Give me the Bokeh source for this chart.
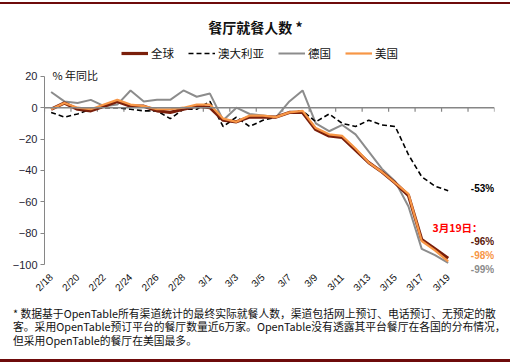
import math
from bokeh.plotting import figure
from bokeh.models import Range1d, FixedTicker, Span, Label, Legend, LegendItem, Div
from bokeh.layouts import column
from bokeh.embed import file_html
from bokeh.resources import INLINE

# ---------------- data ----------------
dates = ["2/18", "2/19", "2/20", "2/21", "2/22", "2/23", "2/24", "2/25", "2/26", "2/27",
         "2/28", "2/29", "3/1", "3/2", "3/3", "3/4", "3/5", "3/6", "3/7", "3/8", "3/9",
         "3/10", "3/11", "3/12", "3/13", "3/14", "3/15", "3/16", "3/17", "3/18", "3/19"]
global_vals = [-1, 3, -1, -2, 1, 4, 1, 1, -2, -3, -1, 1, 0, -8, -9, -6, -6, -6, -3, -3,
               -14, -18, -19, -27, -35, -41, -48, -56, -84, -90, -96]
australia = [-3, -6, -4, -1, 0, 0, -1, -2, -2, -7, -1, -1, 4, -12, -6, -12, -8, -6, -3, -2,
             -9, -4, -10, -12, -8, -11, -12, -30, -44, -50, -53]
germany = [10, 4, 3, 5, 1, 2, 11, 4, 5, 5, 11, 7, 9, -8, 0, -4, -5, -6, 4, 11,
           -10, -15, -11, -17, -28, -39, -47, -63, -90, -94, -99]
usa = [-1, 3, 0, -1, 2, 5, 2, 1, -1, -1, 0, 2, 2, -7, -9, -5, -5, -6, -3, -2,
       -13, -17, -18, -26, -35, -41, -48, -55, -85, -91, -98]
y_ticks = [20, 0, -20, -40, -60, -80, -100]
n_blank = 3  # empty categories after 3/19 (room for end labels)

series_names = ["全球", "澳大利亚", "德国", "美国"]
title_text = "餐厅就餐人数 *"
unit_text = "% 年同比"
date_note = "3月19日："
footnote = [
    "* 数据基于OpenTable所有渠道统计的最终实际就餐人数，渠道包括网上预订、电话预订、无预定的散",
    "客。采用OpenTable预订平台的餐厅数量近6万家。OpenTable没有透露其平台餐厅在各国的分布情况，",
    "但采用OpenTable的餐厅在美国最多。",
]

# ---------------- styles ----------------
C_GLOBAL = "#7A1F0B"
C_AUS = "#000000"
C_GER = "#8C8C8C"
C_USA = "#F79646"
C_AXIS = "#868686"
C_BAR = "#6E0B0B"
CJK = "Noto Sans CJK SC"
LAT = "Liberation Sans"
W = 510

styles = {
    "全球": dict(line_color=C_GLOBAL, line_width=3.2),
    "澳大利亚": dict(line_color=C_AUS, line_width=1.6, line_dash="5 3"),
    "德国": dict(line_color=C_GER, line_width=2),
    "美国": dict(line_color=C_USA, line_width=2.2),
}


def blank_fig(h):
    f = figure(width=W, height=h, output_backend="svg", toolbar_location=None,
               x_range=Range1d(0, W), y_range=Range1d(0, h),
               x_axis_type=None, y_axis_type=None, min_border=0)
    f.outline_line_color = None
    f.xgrid.visible = False
    f.ygrid.visible = False
    f.frame_align = False
    return f


def add_label(fig, text, sx, sy, size, color="#111111", align="left", bold=False, font=CJK):
    fig.add_layout(Label(x=sx, y=sy, x_units="screen", y_units="screen", text=text,
                         text_font=font, text_font_size=size, text_color=color,
                         text_align=align, text_baseline="middle",
                         text_font_style="bold" if bold else "normal"))


# ---------------- header: title + legend (page y 4..68) ----------------
HB = 68
head = blank_fig(HB - 4)
add_label(head, title_text, 255, HB - 26, "14px", align="center", bold=True)
# legend proxies: style samples kept outside the visible range
proxies = {name: head.line([-20, -10], [-20, -20], **styles[name]) for name in series_names}
legend = Legend(items=[LegendItem(label=n, renderers=[proxies[n]]) for n in series_names],
                orientation="horizontal", location=(121, HB - 63),
                glyph_width=27, glyph_height=20, label_standoff=3, spacing=14,
                padding=0, margin=0, border_line_color=None, background_fill_alpha=0,
                label_text_font=CJK, label_text_font_size="11.5px",
                label_text_color="#111111")
head.add_layout(legend)

# ---------------- main chart (page y 68..300) ----------------
x = list(range(len(dates)))
n_cat = len(dates) + n_blank
H_MAIN = 232
p = figure(width=W, height=H_MAIN, output_backend="svg", toolbar_location=None,
           x_range=Range1d(-0.5, n_cat - 0.5), y_range=Range1d(y_ticks[-1] - 7, y_ticks[0] + 5),
           min_border_left=44, min_border_right=16, min_border_top=0, min_border_bottom=23)
p.outline_line_color = None
p.xgrid.visible = False
p.ygrid.visible = False
p.frame_align = False

p.yaxis.ticker = FixedTicker(ticks=y_ticks)
p.yaxis.bounds = (y_ticks[-1], y_ticks[0])
p.yaxis.axis_line_color = C_AXIS
p.yaxis.major_tick_line_color = C_AXIS
p.yaxis.major_tick_out = 4
p.yaxis.major_tick_in = 0
p.yaxis.minor_tick_line_color = None
p.yaxis.major_label_text_font = LAT
p.yaxis.major_label_text_font_size = "11px"
p.yaxis.major_label_text_color = "#1f2433"
p.yaxis.major_label_standoff = 3

lab_idx = x[::2]
p.xaxis.ticker = FixedTicker(ticks=lab_idx)
p.xaxis.major_label_overrides = {i: dates[i] for i in lab_idx}
p.xaxis.axis_line_color = None
p.xaxis.major_tick_line_color = None
p.xaxis.major_tick_out = 0
p.xaxis.major_tick_in = 0
p.xaxis.minor_tick_line_color = None
p.xaxis.major_label_orientation = math.pi / 4
p.xaxis.major_label_text_font = LAT
p.xaxis.major_label_text_font_size = "10px"
p.xaxis.major_label_text_color = "#111111"
p.xaxis.major_label_standoff = 0

p.add_layout(Span(location=0, dimension="width", line_color=C_AXIS, line_width=1.5))
tick_x = [i - 0.5 for i in range(0, n_cat + 1, 2)]
p.segment(x0=tick_x, y0=[0] * len(tick_x), x1=tick_x, y1=[-2.5] * len(tick_x),
          line_color=C_AXIS, line_width=1.2)

values = {"全球": global_vals, "澳大利亚": australia, "德国": germany, "美国": usa}
for name in ["德国", "澳大利亚", "全球", "美国"]:
    p.line(x, values[name], **styles[name])

FB = 277  # page y of the frame bottom


def main_label(text, rx, ry, size, **kw):
    add_label(p, text, rx - 44, FB - ry, size, **kw)


main_label(unit_text, 52, 76.5, "11px")
main_label(f"{australia[-1]}%", 482, 190, "10px", color="#000000", align="center", bold=True, font=LAT)
main_label(date_note, 432, 229, "10.5px", color="#FF0000", bold=True)
main_label(f"{global_vals[-1]}%", 482, 243, "10px", color="#5A170A", align="center", bold=True, font=LAT)
main_label(f"{usa[-1]}%", 482, 257, "10px", color=C_USA, align="center", bold=True, font=LAT)
main_label(f"{germany[-1]}%", 482, 270.5, "10px", color=C_GER, align="center", bold=True, font=LAT)

# ---------------- footnote (page y 300..359) ----------------
FTB = 359
foot = blank_fig(FTB - 300)
for k, line in enumerate(footnote):
    add_label(foot, line, 12.5, FTB - (312.5 + 13.3 * k), "10.8px")

top_bar = Div(width=W, height=2, margin=(2, 0, 0, 0), styles={"background-color": C_BAR})
bottom_bar = Div(width=W, height=3, margin=0, styles={"background-color": C_BAR})
layout = column(top_bar, head, p, foot, bottom_bar, spacing=0)

open("out.html", "w").write(file_html(layout, INLINE))
